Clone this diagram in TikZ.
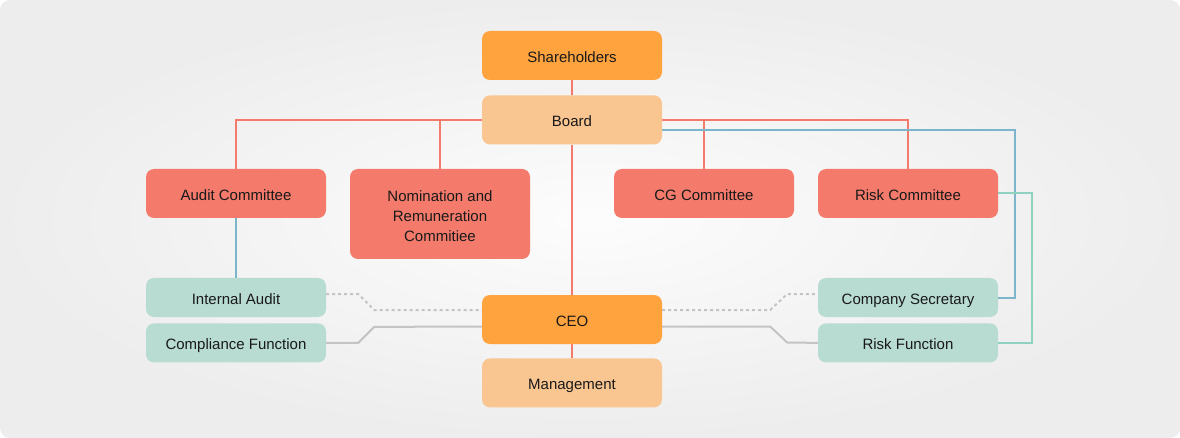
\documentclass[tikz,border=0pt]{standalone}
\usepackage{fontspec}
\setmainfont{Liberation Sans}
\usetikzlibrary{positioning}
\pgfdeclarelayer{bg}
\pgfdeclarelayer{wires}
\pgfsetlayers{bg,wires,main}
\definecolor{orgdark}{HTML}{FFA33F}
\definecolor{orglight}{HTML}{F9C591}
\definecolor{comred}{HTML}{F47B6B}
\definecolor{funcmint}{HTML}{B8DCD2}
\definecolor{wireblue}{HTML}{7BB4CB}
\definecolor{wireteal}{HTML}{8ED2BF}
\definecolor{wiregray}{HTML}{C4C4C4}

\begin{document}
\begin{tikzpicture}[x=1pt,y=-1pt,
	box/.style={rounded corners=8pt, minimum width=180pt, minimum height=49pt,
		inner sep=0pt, align=center, text=black!90,
		text height=15pt, text depth=1pt,
		font=\fontsize{15}{20}\selectfont},
	top/.style={box, fill=orgdark},
	soft/.style={box, fill=orglight},
	committee/.style={box, fill=comred},
	func/.style={box, fill=funcmint, minimum height=39pt},
	redwire/.style={draw=comred, line width=2pt},
	bluewire/.style={draw=wireblue, line width=2pt},
	tealwire/.style={draw=wireteal, line width=2pt},
	graywire/.style={draw=wiregray, line width=2pt},
	dotwire/.style={graywire, dash pattern=on 3pt off 3pt}]
	\useasboundingbox (0,0) rectangle (1180,438);
	\begin{pgfonlayer}{bg}
		\shade[rounded corners=10pt, inner color=black!1, outer color=black!7]
			(0,0) rectangle (1180,438);
	\end{pgfonlayer}

	% top of the chain
	\node[top] (share) at (572,55.5) {Shareholders};
	\node[soft, below=15pt of share] (board) {Board};

	% committees
	\node[committee] (audit) at (236,193.5) {Audit Committee};
	\node[committee, minimum height=90pt, text height=56pt, text depth=1pt] (nomin) at (440,214) {Nomination and\\Remuneration\\Commitiee};
	\node[committee] (cg) at (704,193.5) {CG Committee};
	\node[committee] (riskc) at (908,193.5) {Risk Committee};

	% executive side
	\node[top] (ceo) at (572,319.5) {CEO};
	\node[soft, below=14pt of ceo] (mgmt) {Management};
	\node[func] (intaud) at (236,297.5) {Internal Audit};
	\node[func, below=6pt of intaud] (compl) {Compliance Function};
	\node[func] (cosec) at (908,297.5) {Company Secretary};
	\node[func, below=6pt of cosec] (riskf) {Risk Function};

	\begin{pgfonlayer}{wires}
		\draw[redwire] (share) -- (board) -- (ceo) -- (mgmt);
		\draw[redwire] (audit.north) |- (board.center) -| (riskc.north);
		\draw[redwire] (nomin.north) |- (board.center);
		\draw[redwire] (cg.north) |- (board.center);
		\draw[bluewire] (audit.south) -- (intaud.north);
		\draw[bluewire] ([yshift=-10pt]board.east) -| ([xshift=17pt]cosec.east) -- (cosec.east);
		\draw[tealwire] (riskc.east) -- ++(34,0) |- (riskf.east);
		\draw[dotwire] ([yshift=3.5pt]intaud.east) -- ++(32,0) -- ++(16,16) -- ([yshift=9.5pt]ceo.west);
		\draw[graywire] (compl.east) -- ++(32,0) -- ++(16,-16) -- ([yshift=-7pt]ceo.west);
		\draw[dotwire] ([yshift=9.5pt]ceo.east) -- ++(108,0) -- ++(17,-16) -- ([yshift=3.5pt]cosec.west);
		\draw[graywire] ([yshift=-7pt]ceo.east) -- ++(108,0) -- ++(17,16) -- (riskf.west);
	\end{pgfonlayer}
\end{tikzpicture}
\end{document}
